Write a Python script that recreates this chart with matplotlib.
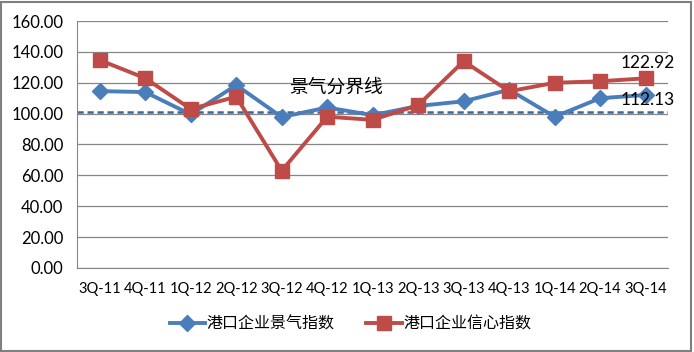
import matplotlib
matplotlib.use("Agg")
import matplotlib.pyplot as plt
from matplotlib.patches import Rectangle

plt.rcParams['font.family'] = ['Noto Sans CJK SC', 'DejaVu Sans']

quarters = ["3Q-11", "4Q-11", "1Q-12", "2Q-12", "3Q-12", "4Q-12", "1Q-13",
            "2Q-13", "3Q-13", "4Q-13", "1Q-14", "2Q-14", "3Q-14"]
prosperity = [114.6, 114.0, 99.5, 118.5, 97.8, 104.0, 99.0,
              105.0, 108.0, 115.5, 98.0, 110.0, 112.13]
confidence = [134.7, 123.0, 103.0, 111.0, 63.0, 98.0, 96.0,
              105.5, 134.0, 114.5, 120.0, 121.0, 122.92]
threshold = 101.0

blue = "#4a7ebb"
red = "#be4b48"
num_font = "Lato"

fig = plt.figure(figsize=(6.94, 3.52), dpi=100)
ax = fig.add_axes([0.111, 0.239, 0.852, 0.701])

x = list(range(len(quarters)))
ax.axhline(threshold, color="#3a6a9a", lw=1.8, ls=(0, (2.5, 1.5)), zorder=2)
ax.plot(x, prosperity, color=blue, lw=2.8, marker="D", ms=8,
        label="港口企业景气指数", zorder=3)
ax.plot(x, confidence, color=red, lw=2.8, marker="s", ms=10,
        label="港口企业信心指数", zorder=4)

ax.text(5.2, threshold + 16, "景气分界线", fontsize=13.5, ha="center", va="center")
ax.text(x[-1] + 0.05, confidence[-1] + 10, f"{confidence[-1]:.2f}", fontsize=12.5,
        ha="center", va="center", family=num_font)
ax.text(x[-1] + 0.05, prosperity[-1] - 3.5, f"{prosperity[-1]:.2f}", fontsize=12.5,
        ha="center", va="center", family=num_font)

ax.set_xlim(-0.5, len(quarters) - 0.5)
ax.set_ylim(0, 160)
ax.set_yticks(range(0, 161, 20))
ax.set_yticklabels([f"{v:.2f}" for v in range(0, 161, 20)], family=num_font, fontsize=12)
ax.set_xticks(x)
ax.set_xticklabels(quarters, family=num_font, fontsize=10.5)
ax.tick_params(length=0, pad=10)
ax.tick_params(axis="y", pad=10)
ax.grid(axis="y", color="#868686", lw=0.9)
ax.set_axisbelow(True)
for s in ["top", "right"]:
    ax.spines[s].set_visible(False)
ax.spines["left"].set_color("#868686")
ax.spines["bottom"].set_color("#868686")

leg = fig.legend(loc="lower center", bbox_to_anchor=(0.505, 0.015), ncol=2,
                 frameon=False, fontsize=11.5, handlelength=2.2, handletextpad=0.1,
                 columnspacing=2.0)

fig.patches.append(Rectangle((0.002, 0.004), 0.994, 0.99, transform=fig.transFigure,
                             fill=False, edgecolor="#7f7f7f", lw=1.5))

fig.savefig("out.png", dpi=100)
